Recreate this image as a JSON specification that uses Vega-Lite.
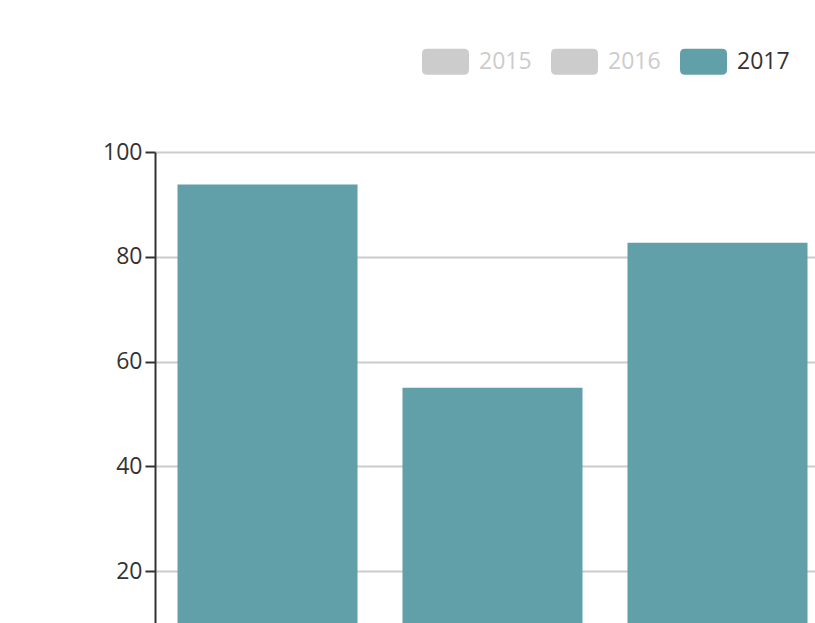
{
  "$schema": "https://vega.github.io/schema/vega-lite/v6.json",
  "autosize": {"type": "none"},
  "padding": {"left": 155, "top": 152, "right": 0, "bottom": 60},
  "width": 675,
  "height": 524,
  "background": "#ffffff",
  "data": {"values": [
    {"category": "A", "year": "2017", "value": 93.8},
    {"category": "B", "year": "2017", "value": 55.0},
    {"category": "C", "year": "2017", "value": 82.7}
  ]},
  "mark": {"type": "bar"},
  "encoding": {
    "x": {
      "field": "category", "type": "nominal", "title": null,
      "scale": {"paddingInner": 0.2, "paddingOuter": 0.1},
      "axis": {"labels": false, "ticks": false, "domainColor": "#333333", "domainWidth": 2}
    },
    "y": {
      "field": "value", "type": "quantitative", "title": null,
      "scale": {"domain": [0, 100], "nice": false},
      "axis": {
        "values": [20, 40, 60, 80, 100],
        "domainColor": "#333333", "domainWidth": 2,
        "tickColor": "#333333", "tickWidth": 2, "tickSize": 10,
        "labelPadding": 3, "labelFont": "Open Sans", "labelFontSize": 23,
        "labelColor": "#333333",
        "gridColor": "#cccccc", "gridWidth": 2
      }
    },
    "color": {
      "field": "year", "type": "nominal",
      "scale": {"domain": ["2015", "2016", "2017"], "range": ["#cccccc", "#cccccc", "#61a0a8"]},
      "legend": {
        "title": null,
        "orient": "none",
        "direction": "horizontal",
        "legendX": 267,
        "legendY": -114,
        "symbolType": "M -1 -0.34 Q -1 -0.553 -0.787 -0.553 L 0.787 -0.553 Q 1 -0.553 1 -0.34 L 1 0.34 Q 1 0.553 0.787 0.553 L -0.787 0.553 Q -1 0.553 -1 0.34 Z",
        "symbolSize": 2209,
        "symbolStrokeWidth": 0,
        "symbolOpacity": 1,
        "labelFont": "Open Sans",
        "labelFontSize": 23,
        "labelOffset": 10,
        "columnPadding": 19,
        "labelColor": "#cccccc",
        "encode": {
          "labels": {"update": {"fill": {"signal": "datum.value == '2017' ? '#333333' : '#cccccc'"}}}
        }
      }
    }
  },
  "config": {"view": {"stroke": null}}
}
